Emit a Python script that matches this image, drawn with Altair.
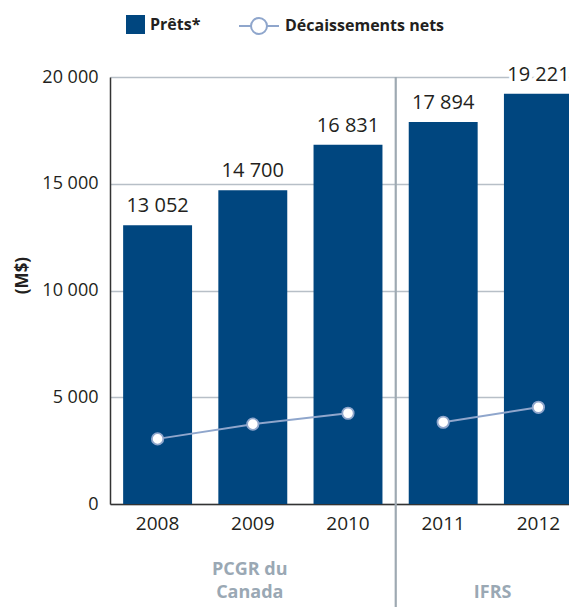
import altair as alt
import pandas as pd

years = ["2008", "2009", "2010", "2011", "2012"]
prets = [13052, 14700, 16831, 17894, 19221]
decaissements = [3050, 3740, 4250, 3830, 4530]
regimes = ["PCGR du Canada", "PCGR du Canada", "PCGR du Canada", "IFRS", "IFRS"]

y_ticks = [0, 5000, 10000, 15000, 20000]
sep_before_year = ["2011"]
group_text_1 = ["PCGR du\nCanada"]
group_year_1 = ["2009"]
group_text_2 = ["IFRS"]
group_year_2 = ["2011"]

BAR = "#00467f"
LINE = "#8fa6cc"
TEXT = "#231f20"
GROUP = "#9aa8b4"
GRID = "#b7bfc7"
FONT = "Open Sans"

df = pd.DataFrame({"year": years, "prets": prets, "dec": decaissements, "regime": regimes})
df["label"] = [f"{v:,}".replace(",", " ") for v in prets]
df["s_bar"] = "Prêts*"
df["s_line"] = "Décaissements nets"

xscale = alt.Scale(domain=years, range=[0, 476], paddingInner=0.276, paddingOuter=0.138)
yscale = alt.Scale(domain=[0, 20000], nice=False)

base = alt.Chart(df)

bars = base.mark_bar(color=BAR).encode(
    x=alt.X("year:N", scale=xscale, sort=years,
            axis=alt.Axis(title=None, labelAngle=0, ticks=False, labelPadding=10,
                          labelFontSize=19, labelFont=FONT, labelColor=TEXT,
                          domainColor="#333333", domainWidth=1.5, grid=False)),
    y=alt.Y("prets:Q", scale=yscale,
            axis=alt.Axis(values=y_ticks, title="(M$)", ticks=False, labelPadding=12,
                          labelExpr="replace(format(datum.value, ','), ',', ' ')",
                          labelFontSize=18, labelFont=FONT, labelColor=TEXT,
                          titleFont=FONT, titleFontSize=17, titleFontWeight="bold",
                          titleColor=TEXT, titleAngle=270, titleAlign="center",
                          titleBaseline="middle", titleX=-88, titleY=198,
                          domainColor="#333333", domainWidth=1.5,
                          grid=True, gridColor=GRID, gridWidth=1.5)),
    color=alt.Color("s_bar:N", scale=alt.Scale(domain=["Prêts*"], range=[BAR]),
                    legend=alt.Legend(title=None, orient="none", legendX=16, legendY=-62,
                                      symbolType="square", symbolSize=361, padding=0,
                                      labelFont=FONT, labelFontSize=16, labelFontWeight="bold",
                                      labelColor=TEXT, labelOffset=5, symbolStrokeWidth=0)),
)

halo = base.mark_text(fontSize=20, font=FONT, baseline="alphabetic", dy=-13,
                      stroke="white", strokeWidth=7, color="white").encode(
    x=alt.X("year:N", scale=xscale, sort=years),
    y=alt.Y("prets:Q", scale=yscale),
    text="label:N",
)
labels = base.mark_text(fontSize=20, font=FONT, baseline="alphabetic", dy=-13,
                        color=TEXT).encode(
    x=alt.X("year:N", scale=xscale, sort=years),
    y=alt.Y("prets:Q", scale=yscale),
    text="label:N",
)

legend_path = "M-1,0H-0.4M0.4,0H1M-0.4,0A0.4,0.4,0,1,1,0.4,0A0.4,0.4,0,1,1,-0.4,0Z"
line = base.mark_line(strokeWidth=2).encode(
    x=alt.X("year:N", scale=xscale, sort=years),
    y=alt.Y("dec:Q", scale=yscale),
    detail="regime:N",
    stroke=alt.Stroke("s_line:N", scale=alt.Scale(domain=["Décaissements nets"], range=[LINE]),
                      legend=alt.Legend(title=None, orient="none", legendX=128, legendY=-72,
                                        symbolType=legend_path, symbolSize=1600, padding=0,
                                        symbolStrokeWidth=2, labelFont=FONT, labelFontSize=16,
                                        labelFontWeight="bold", labelColor=TEXT, labelOffset=5)),
)
points = base.mark_point(filled=True, fill="white", stroke=LINE, strokeWidth=1.8,
                         size=130, opacity=1).encode(
    x=alt.X("year:N", scale=xscale, sort=years),
    y=alt.Y("dec:Q", scale=yscale),
)

sep = alt.Chart(pd.DataFrame({"year": sep_before_year})).mark_rule(
    color="#9ea9b2", strokeWidth=2.2, xOffset=-13).encode(
    x=alt.X("year:N", scale=xscale, sort=years, bandPosition=0),
    y=alt.value(0),
    y2=alt.value(560),
)

g1 = alt.Chart(pd.DataFrame({"year": group_year_1, "t": group_text_1})).mark_text(
    font=FONT, fontSize=18, fontWeight="bold", color=GROUP, baseline="top",
    lineBreak="\n", lineHeight=23, dx=-3).encode(
    x=alt.X("year:N", scale=xscale, sort=years),
    y=alt.value(484),
    text="t:N",
)
g2 = alt.Chart(pd.DataFrame({"year": group_year_2, "t": group_text_2})).mark_text(
    font=FONT, fontSize=18, fontWeight="bold", color=GROUP, baseline="top", dx=15).encode(
    x=alt.X("year:N", scale=xscale, sort=years, bandPosition=1),
    y=alt.value(507),
    text="t:N",
)

chart = alt.layer(bars, line, points, halo, labels, sep, g1, g2).properties(
    width=459, height=427,
    autosize=alt.AutoSizeParams(type="none"),
    padding={"left": 102, "top": 69, "right": 0, "bottom": 103},
).configure_view(stroke=None)

chart.save("out.html", embed_options={"renderer": "svg", "actions": False})
